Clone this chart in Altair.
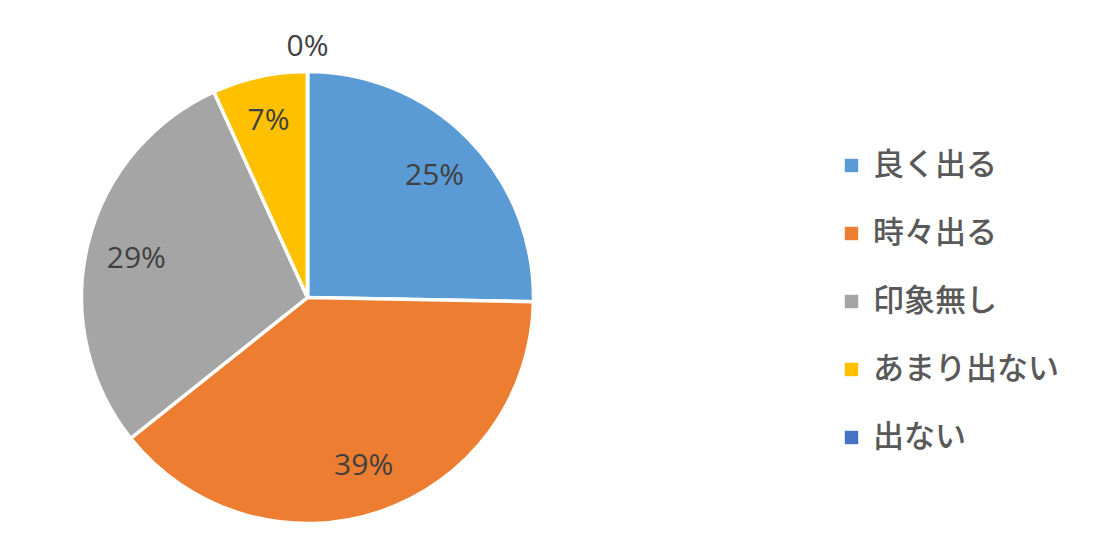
import altair as alt
import pandas as pd

categories = ["良く出る", "時々出る", "印象無し", "あまり出ない", "出ない"]
values = [25.3, 39.0, 28.9, 6.8, 0.0]
labels = ["25%", "39%", "29%", "7%", "0%"]
colors = ["#5B9BD5", "#ED7D31", "#A5A5A5", "#FFC000", "#4472C4"]
label_radius = [178, 175, 176, 184, 254]

df = pd.DataFrame({
    "cat": categories,
    "val": values,
    "lab": labels,
    "idx": list(range(len(categories))),
    "lr": label_radius,
})
total = float(sum(values))

cx, cy = 299.5, 289.5

pie = alt.Chart(df).mark_arc(outerRadius=226, stroke="white", strokeWidth=3.5).encode(
    theta=alt.Theta("val:Q", stack=True),
    order=alt.Order("idx:Q"),
    x=alt.value(cx), y=alt.value(cy),
    color=alt.Color(
        "cat:N",
        sort=categories,
        scale=alt.Scale(domain=categories, range=colors),
        legend=alt.Legend(
            title=None, orient="none", legendX=828, legendY=142,
            symbolType="square", symbolSize=180, symbolStrokeWidth=0,
            labelFont="Noto Sans CJK JP", labelFontSize=31, labelFontWeight=500,
            labelColor="#595959",
            rowPadding=36, labelOffset=6, labelLimit=400,
        ),
    ),
)

text = alt.Chart(df).transform_window(
    cum="sum(val)", sort=[alt.SortField("idx")],
    frame=[None, 0],
).transform_calculate(
    mid="datum.cum - datum.val / 2"
).mark_text(font="Open Sans", fontSize=30, fontWeight=500, color="#404040", dy=3).encode(
    theta=alt.Theta("mid:Q", stack=False, scale=alt.Scale(domain=[0, total])),
    x=alt.value(cx), y=alt.value(cy),
    radius=alt.Radius("lr:Q", scale=None),
    text="lab:N",
)

chart = (pie + text).properties(
    width=1084, height=519, padding=0, autosize=alt.AutoSizeParams(type="none")
).configure_view(stroke=None)

chart.save("out.html", embed_options={"renderer": "svg", "actions": False})
